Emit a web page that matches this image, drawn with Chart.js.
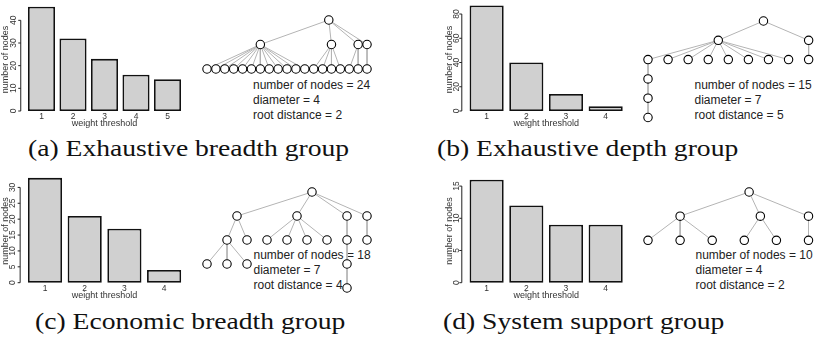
<!DOCTYPE html>
<html>
<head>
<meta charset="utf-8">
<script src="https://cdn.jsdelivr.net/npm/chart.js"></script>
<style>
  html, body { margin: 0; padding: 0; background: #fff; }
  #page { position: relative; width: 817px; height: 343px; overflow: hidden; background: #fff; }
  canvas { position: absolute; }
  .stats { position: absolute; font: 12px "Liberation Sans", Arial, sans-serif; line-height: 15px; color: #222; white-space: nowrap; }
  .cap { position: absolute; font: 24px "Liberation Serif", "Times New Roman", serif; line-height: 24px; color: #111; white-space: nowrap; transform-origin: 0 0; transform: scaleX(1.15); }
</style>
</head>
<body>
<div id="page"></div>
<script>
// bar data: number of nodes per weight threshold
const thresholdsA = ['1', '2', '3', '4', '5'];
const nodesA = [46, 32, 23, 16, 14];
const ticksA = [0, 10, 20, 30, 40];

const thresholdsB = ['1', '2', '3', '4'];
const nodesB = [87, 40, 14, 4];
const ticksB = [0, 20, 40, 60, 80];

const thresholdsC = ['1', '2', '3', '4'];
const nodesC = [33, 21, 17, 4];
const ticksC = [0, 5, 10, 15, 20, 25, 30];

const thresholdsD = ['1', '2', '3', '4'];
const nodesD = [16, 12, 9, 9];
const ticksD = [0, 5, 10, 15];

// trees: parent index of each node (-1 = root) and its column in the drawing
const parentsA = [-1, 0, 0, 0, 0, 1, 1, 1, 1, 1, 1, 1, 1, 1, 1, 1, 1, 2, 2, 2, 2, 3, 3, 4];
const colsA = [13.7, 6, 14, 17, 18, 0, 1, 2, 3, 4, 5, 6, 7, 8, 9, 10, 11, 12, 13, 14, 15, 16, 17, 18];

const parentsB = [-1, 0, 0, 1, 1, 1, 1, 1, 1, 1, 1, 2, 3, 12, 13];
const colsB = [5.75, 3.5, 8, 0, 1, 2, 3, 4, 5, 6, 7, 8, 0, 0, 0];

const parentsC = [-1, 0, 0, 0, 0, 1, 1, 2, 2, 2, 2, 3, 4, 5, 5, 5, 11, 16];
const colsC = [5.25, 1.5, 4.5, 7, 8, 1, 2, 3, 4, 5, 6, 7, 8, 0, 1, 2, 7, 7];

const parentsD = [-1, 0, 0, 0, 1, 1, 1, 2, 2, 3];
const colsD = [3.15, 1, 3.5, 5, 0, 1, 2, 3, 4, 5];

const statsA = ['number of nodes = 24', 'diameter = 4', 'root distance = 2'];
const statsB = ['number of nodes = 15', 'diameter = 7', 'root distance = 5'];
const statsC = ['number of nodes = 18', 'diameter = 7', 'root distance = 4'];
const statsD = ['number of nodes = 10', 'diameter = 4', 'root distance = 2'];

const captions = ['(a) Exhaustive breadth group', '(b) Exhaustive depth group',
                  '(c) Economic breadth group', '(d) System support group'];

const page = document.getElementById('page');
const SANS = '"Liberation Sans", Arial, sans-serif';

function addCanvas(x, y, w, h) {
    const c = document.createElement('canvas');
    c.width = w; c.height = h;
    c.style.left = x + 'px'; c.style.top = y + 'px';
    c.style.width = w + 'px'; c.style.height = h + 'px';
    page.appendChild(c);
    return c;
}

// R-like axes: y axis line only across the tick range, rotated tick labels
const rAxes = {
    id: 'rAxes',
    afterDraw(chart, args, opts) {
        const { ctx, chartArea } = chart;
        const xs = chart.scales.x, ys = chart.scales.y;
        const ax = chartArea.left - opts.gap;
        const t = opts.ticks;
        ctx.save();
        ctx.strokeStyle = '#222';
        ctx.lineWidth = 1;
        ctx.beginPath();
        ctx.moveTo(ax, ys.getPixelForValue(t[0]));
        ctx.lineTo(ax, ys.getPixelForValue(t[t.length - 1]));
        t.forEach(v => {
            const py = ys.getPixelForValue(v);
            ctx.moveTo(ax, py);
            ctx.lineTo(ax - 2.5, py);
        });
        ctx.stroke();

        ctx.fillStyle = '#333';
        ctx.textAlign = 'center';
        ctx.textBaseline = 'middle';
        ctx.font = '8.5px ' + SANS;
        t.forEach(v => {
            ctx.save();
            ctx.translate(ax - opts.labelGap, ys.getPixelForValue(v));
            ctx.rotate(-Math.PI / 2);
            ctx.fillText(String(v), 0, 0);
            ctx.restore();
        });
        chart.data.labels.forEach((l, i) => {
            ctx.fillText(l, xs.getPixelForValue(i), chartArea.bottom + 6);
        });

        ctx.font = '9px ' + SANS;
        ctx.fillText('weight threshold', (chartArea.left + chartArea.right) / 2, chartArea.bottom + 12.5);
        ctx.save();
        ctx.translate(ax - opts.titleGap, (chartArea.top + chartArea.bottom) / 2 + 3);
        ctx.rotate(-Math.PI / 2);
        ctx.fillText('number of nodes', 0, 0);
        ctx.restore();
        ctx.restore();
    }
};

function barChart(labels, values, ticks, box) {
    const c = addCanvas(box.x, box.y, box.w, box.h);
    return new Chart(c.getContext('2d'), {
        type: 'bar',
        data: {
            labels: labels,
            datasets: [{
                data: values,
                backgroundColor: '#d0d0d0',
                borderColor: '#111',
                borderWidth: 1.8,
                borderSkipped: false,
                barPercentage: 0.86,
                categoryPercentage: 1,
                clip: false
            }]
        },
        options: {
            responsive: false,
            animation: false,
            events: [],
            layout: {
                padding: {
                    left: box.left - box.x,
                    right: box.x + box.w - box.right,
                    top: box.top - box.y,
                    bottom: box.y + box.h - box.bottom
                }
            },
            scales: {
                x: { display: false },
                y: { display: false, min: 0, max: box.yMax }
            },
            plugins: {
                legend: { display: false },
                tooltip: { enabled: false },
                rAxes: { ticks: ticks, gap: 5, labelGap: box.labelGap, titleGap: box.titleGap }
            }
        },
        plugins: [rAxes]
    });
}

function treeChart(parents, cols, lay) {
    const depth = parents.map(() => 0);
    parents.forEach((p, i) => { if (p >= 0) depth[i] = depth[p] + 1; });
    const minCol = Math.min(...cols), maxCol = Math.max(...cols);
    const maxDepth = Math.max(...depth);
    const pad = 7;
    const w = (maxCol - minCol) * lay.unit + 2 * pad;
    const h = maxDepth * lay.levelH + 2 * pad;
    const c = addCanvas(lay.x0 + minCol * lay.unit - pad, lay.y0 - pad, Math.ceil(w), Math.ceil(h));

    const datasets = [{
        type: 'scatter',
        data: cols.map((x, i) => ({ x: x, y: depth[i] })),
        pointRadius: 4.2,
        pointBackgroundColor: '#fff',
        pointBorderColor: '#000',
        pointBorderWidth: 1.1,
        showLine: false,
        clip: false
    }];
    parents.forEach((p, i) => {
        if (p < 0) return;
        datasets.push({
            type: 'line',
            data: [{ x: cols[p], y: depth[p] }, { x: cols[i], y: depth[i] }],
            borderColor: '#b4b4b4',
            borderWidth: 1,
            pointRadius: 0,
            clip: false
        });
    });

    return new Chart(c.getContext('2d'), {
        type: 'scatter',
        data: { datasets: datasets },
        options: {
            responsive: false,
            animation: false,
            events: [],
            layout: { padding: { left: pad, right: c.width - w + pad, top: pad, bottom: c.height - h + pad } },
            scales: {
                x: { type: 'linear', display: false, min: minCol, max: maxCol },
                y: { type: 'linear', display: false, min: 0, max: maxDepth, reverse: true }
            },
            plugins: { legend: { display: false }, tooltip: { enabled: false } }
        }
    });
}

function statsText(lines, x, y) {
    const d = document.createElement('div');
    d.className = 'stats';
    d.style.left = x + 'px';
    d.style.top = y + 'px';
    d.innerHTML = lines.join('<br>');
    page.appendChild(d);
}

function caption(text, x, y) {
    const d = document.createElement('div');
    d.className = 'cap';
    d.style.left = x + 'px';
    d.style.top = y + 'px';
    d.textContent = text;
    page.appendChild(d);
}

// text first so that tree canvases sit on top of it
statsText(statsA, 253, 77.5);
statsText(statsB, 694.5, 77.5);
statsText(statsC, 253.5, 248);
statsText(statsD, 695.5, 248);

barChart(thresholdsA, nodesA, ticksA,
    { x: 0, y: 0, w: 200, h: 135, left: 25.75, right: 183.25, top: 2.2, bottom: 111, yMax: 48, labelGap: 7, titleGap: 15 });
barChart(thresholdsB, nodesB, ticksB,
    { x: 410, y: 0, w: 220, h: 135, left: 466.8, right: 625.5, top: 1.9, bottom: 111, yMax: 90, labelGap: 5.5, titleGap: 12 });
barChart(thresholdsC, nodesC, ticksC,
    { x: 0, y: 170, w: 200, h: 135, left: 25.15, right: 183.95, top: 173.1, bottom: 282.7, yMax: 34.5, labelGap: 7, titleGap: 15 });
barChart(thresholdsD, nodesD, ticksD,
    { x: 410, y: 170, w: 220, h: 135, left: 466.8, right: 625.5, top: 173.2, bottom: 282.7, yMax: 17, labelGap: 5.5, titleGap: 12 });

treeChart(parentsA, colsA, { x0: 207, unit: 8.89, y0: 20, levelH: 24.5 });
treeChart(parentsB, colsB, { x0: 647.7, unit: 20.08, y0: 20.7, levelH: 19.3 });
treeChart(parentsC, colsC, { x0: 206.7, unit: 20, y0: 192.3, levelH: 24 });
treeChart(parentsD, colsD, { x0: 647.7, unit: 32.1, y0: 191.7, levelH: 24.15 });

caption(captions[0], 28, 136);
caption(captions[1], 437, 136);
caption(captions[2], 35, 309);
caption(captions[3], 443, 309);
</script>
</body>
</html>
